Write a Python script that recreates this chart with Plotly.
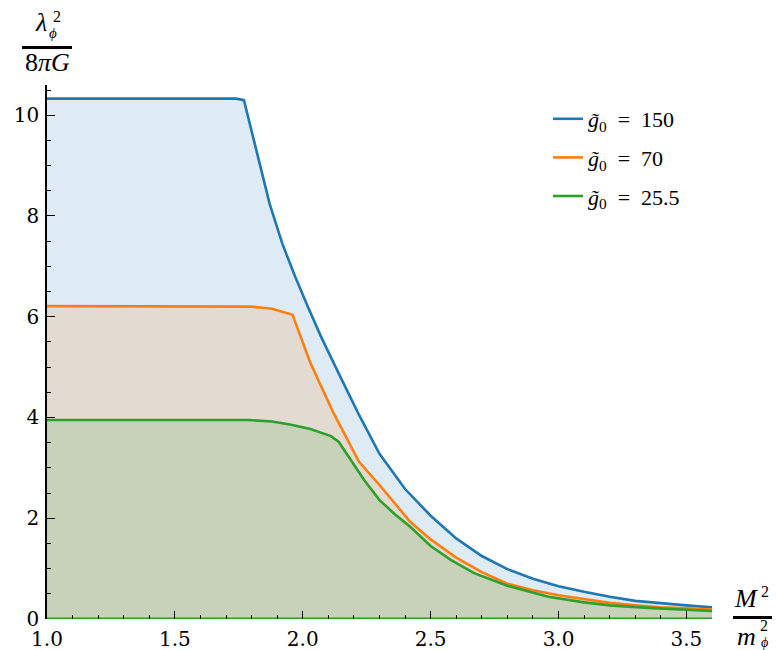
import plotly.graph_objects as go

# Coupling bound curves for three values of g0
x_150 = [1.0, 1.70, 1.74, 1.77, 1.82, 1.87, 1.92, 1.97, 2.02, 2.07, 2.14, 2.22, 2.30,
         2.40, 2.50, 2.60, 2.70, 2.80, 2.90, 3.00, 3.10, 3.20, 3.30, 3.40, 3.50, 3.60]
y_150 = [10.33, 10.33, 10.33, 10.30, 9.30, 8.25, 7.45, 6.80, 6.20, 5.62, 4.88, 4.05, 3.28,
         2.58, 2.05, 1.60, 1.25, 0.99, 0.80, 0.65, 0.54, 0.44, 0.36, 0.31, 0.27, 0.23]

x_70 = [1.0, 1.70, 1.80, 1.88, 1.96, 2.03, 2.12, 2.22, 2.30, 2.42, 2.50, 2.60, 2.70,
        2.80, 2.90, 3.00, 3.10, 3.20, 3.30, 3.40, 3.50, 3.60]
y_70 = [6.21, 6.21, 6.20, 6.16, 6.04, 5.08, 4.09, 3.12, 2.66, 1.93, 1.58, 1.22, 0.93,
        0.70, 0.57, 0.47, 0.39, 0.32, 0.27, 0.23, 0.21, 0.19]

x_25 = [1.0, 1.79, 1.88, 1.95, 2.03, 2.11, 2.14, 2.19, 2.24, 2.30, 2.36, 2.42, 2.50,
        2.58, 2.67, 2.80, 2.96, 3.10, 3.20, 3.35, 3.50, 3.60]
y_25 = [3.95, 3.95, 3.92, 3.86, 3.77, 3.63, 3.52, 3.15, 2.76, 2.36, 2.08, 1.83, 1.45,
        1.17, 0.91, 0.66, 0.44, 0.33, 0.27, 0.22, 0.18, 0.16]

names = ["<i>g̃</i><sub>0</sub>  =  150", "<i>g̃</i><sub>0</sub>  =  70",
         "<i>g̃</i><sub>0</sub>  =  25.5"]
colors = ["#1f77b4", "#ff7f0e", "#2ca02c"]
fills = ["rgba(31,119,180,0.15)", "rgba(255,127,14,0.15)", "rgba(44,160,44,0.15)"]

x_ticks = [1.0, 1.5, 2.0, 2.5, 3.0, 3.5]
y_ticks = [0, 2, 4, 6, 8, 10]

series = [(x_150, y_150), (x_70, y_70), (x_25, y_25)]

SERIF = "DejaVu Serif, Liberation Serif, Times New Roman, serif"
MATH = "Liberation Serif, DejaVu Serif, Times New Roman, serif"

fig = go.Figure()

# shaded regions under each curve
for (xs, ys), fc in zip(series, fills):
    fig.add_trace(go.Scatter(x=xs, y=ys, mode="lines", line=dict(width=0),
                             fill="tozeroy", fillcolor=fc, showlegend=False,
                             hoverinfo="skip"))

# boundary curves
for i, ((xs, ys), c, n) in enumerate(zip(series, colors, names)):
    fig.add_trace(go.Scatter(x=xs, y=ys, mode="lines", name=n,
                             line=dict(color=c, width=2.6), legendgroup=str(i)))

# lower edge of the green region
fig.add_trace(go.Scatter(x=[x_25[0], x_25[-1]], y=[0, 0], mode="lines",
                         line=dict(color=colors[2], width=3), showlegend=False,
                         cliponaxis=False, hoverinfo="skip"))

L, R, T, B = 47, 64, 85, 31
W, H = 776, 650
pw, ph = W - L - R, H - T - B


def px(xp):
    return (xp - L) / pw


def py(yp):
    return (H - B - yp) / ph


ann = []


def label(text, xp, yp, size):
    ann.append(dict(text=text, x=px(xp), y=py(yp), xref="paper", yref="paper",
                    showarrow=False, xanchor="center", yanchor="middle",
                    font=dict(family=MATH, size=size, color="black")))


# vertical axis label: lambda_phi^2 / (8 pi G)
label("<i>λ</i>", 41, 22, 26)
label("2", 57, 16, 16)
label("<i>ϕ</i>", 53, 33, 15)
label("8<i>πG</i>", 47, 62, 26)
# horizontal axis label: M^2 / m_phi^2
label("<i>M</i>", 746, 598, 26)
label("2", 765, 591, 16)
label("<i>m</i>", 746, 636, 26)
label("2", 764, 625, 16)
label("<i>ϕ</i>", 764, 642, 14)

shapes = [
    dict(type="line", xref="paper", yref="paper", x0=px(22), x1=px(72),
         y0=py(47.5), y1=py(47.5), line=dict(color="black", width=3)),
    dict(type="line", xref="paper", yref="paper", x0=px(733), x1=px(772),
         y0=py(617.5), y1=py(617.5), line=dict(color="black", width=3)),
]

fig.update_layout(
    width=W, height=H,
    margin=dict(l=L, r=R, t=T, b=B, autoexpand=False),
    plot_bgcolor="white", paper_bgcolor="white",
    font=dict(family=SERIF, color="black"),
    annotations=ann, shapes=shapes,
    legend=dict(x=px(548), y=py(98), xanchor="left", yanchor="top",
                bgcolor="rgba(0,0,0,0)", tracegroupgap=7),
    legend_font=dict(family=MATH, size=22, color="black"),
    showlegend=True,
)

fig.update_xaxes(
    range=[1.0, 3.6], tickvals=x_ticks, ticktext=[f"{v:.1f}" for v in x_ticks],
    ticks="inside", ticklen=8, tickwidth=1.3, tickcolor="black",
    showline=False, showgrid=False, zeroline=False, ticklabelstandoff=6,
    automargin=False,
    tickfont=dict(family=SERIF, size=20, color="black"),
    minor=dict(ticks="inside", ticklen=4, tickwidth=1.1, tickcolor="black",
               dtick=0.1, tick0=1.0, showgrid=False),
)
fig.update_yaxes(
    range=[0, 10.6], tickvals=y_ticks, ticktext=[str(v) for v in y_ticks],
    ticks="inside", ticklen=8, tickwidth=1.3, tickcolor="black",
    showline=True, linecolor="black", linewidth=1.5,
    showgrid=False, zeroline=False, ticklabelstandoff=2, automargin=False,
    tickfont=dict(family=SERIF, size=20, color="black"),
    minor=dict(ticks="inside", ticklen=4, tickwidth=1.1, tickcolor="black",
               dtick=0.5, tick0=0, showgrid=False),
)

fig.write_html("out.html")
